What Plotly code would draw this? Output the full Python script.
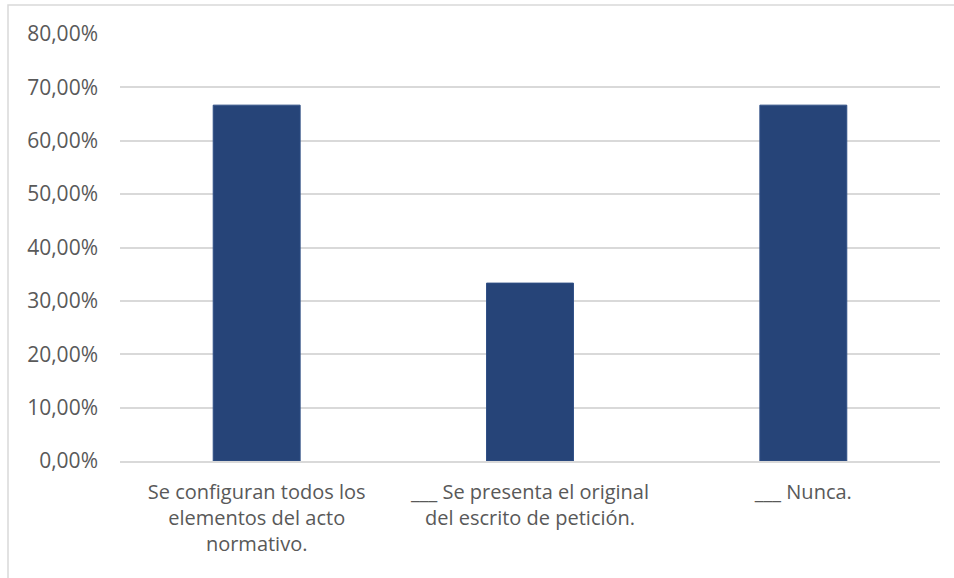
import plotly.graph_objects as go

categories = [
    "Se configuran todos los<br>elementos del acto<br>normativo.",
    "___ Se presenta el original<br>del escrito de petición.",
    "___ Nunca.",
]
values = [0.6667, 0.3333, 0.6667]

fig = go.Figure(
    go.Bar(
        x=categories,
        y=values,
        marker=dict(color="#264478", line=dict(color="#2f4f85", width=1)),
        width=0.318,
    )
)

fig.update_layout(
    width=954,
    height=578,
    margin=dict(l=120, r=14, t=34, b=117),
    paper_bgcolor="white",
    plot_bgcolor="white",
    separators=",.",
    showlegend=False,
    font=dict(family="Open Sans", size=20, color="#595959"),
    bargap=0.68,
    shapes=[
        dict(
            type="rect", xref="paper", yref="paper",
            x0=(8 - 120) / 820, x1=1.2, y0=-0.5, y1=(461 - 5) / 427,
            line=dict(color="#d9d9d9", width=1.5), fillcolor="rgba(0,0,0,0)",
            layer="below",
        )
    ],
)

fig.update_yaxes(
    range=[0, 0.8],
    dtick=0.1,
    tickformat=".2%",
    showgrid=True,
    gridcolor="#d9d9d9",
    gridwidth=1.5,
    zeroline=False,
    showline=False,
    ticklabelstandoff=21,
    tickfont=dict(size=21, color="#595959"),
    fixedrange=True,
)
fig.update_xaxes(
    showline=True,
    linecolor="#d9d9d9",
    linewidth=1.5,
    ticks="",
    ticklabelstandoff=12,
    tickfont=dict(size=20, color="#595959"),
    tickangle=0,
    fixedrange=True,
)

fig.write_html("out.html")
